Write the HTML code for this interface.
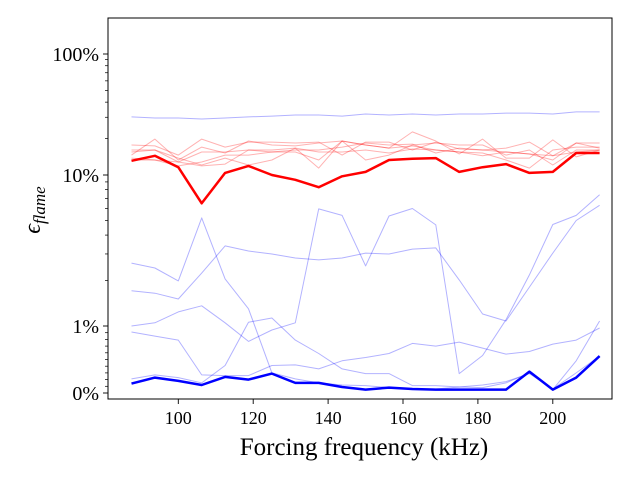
<!DOCTYPE html>
<html><head><meta charset="utf-8"><style>
html,body{margin:0;padding:0;background:#fff;}
svg{display:block;font-family:"Liberation Serif",serif;}
</style></head><body>
<svg id="chart" width="640" height="480" viewBox="0 0 640 480" xmlns="http://www.w3.org/2000/svg">
<rect x="0" y="0" width="640" height="480" fill="#fff"/>
<g id="series"></g>
<g id="axes"></g>
</svg>
<script>
const freqs = [87.5,93.75,100,106.25,112.5,118.75,125,131.25,137.5,143.75,150,156.25,162.5,168.75,175,181.25,187.5,193.75,200,206.25,212.5];
const xTicks = [100,120,140,160,180,200];
const yTicks = [0,1,10,100];
const yTickLabels = ["0%","1%","10%","100%"];
const redBold = [13.1,14.4,11.6,6.5,10.4,11.9,10,9.3,8.3,9.8,10.6,13.3,13.6,13.8,10.6,11.6,12.3,10.4,10.6,15.2,15.2];
const red1 = [14.6,19.8,13.3,17.0,15.2,19.1,17.7,17.4,18.4,19.1,17.7,16.7,22.7,19.1,14.9,19.8,13.8,13.8,19.5,14.1,16.1];
const red2 = [17.7,17.4,14.6,19.8,17.0,18.7,18.7,18.4,18.7,14.6,18.7,18.7,16.1,18.7,16.4,16.1,16.7,18.7,14.4,18.4,18.4];
const red3 = [15.5,16.1,12.8,15.5,15.5,16.1,16.1,16.7,15.5,15.5,16.1,15.2,16.4,16.1,15.5,14.4,15.5,14.9,13.3,18.4,16.7];
const red4 = [13.8,13.3,11.9,12.8,14.6,14.6,15.5,16.1,16.1,17.0,18.4,17.7,18.0,15.2,16.7,16.1,15.5,14.9,14.4,15.5,16.1];
const red5 = [16.1,16.1,13.8,12.1,13.8,12.1,13.3,16.7,11.4,19.1,13.3,14.6,17.7,18.4,17.7,17.7,14.6,16.1,12.1,16.1,16.1];
const red6 = [13.3,13.3,12.8,11.9,12.3,16.1,15.5,15.5,13.3,19.1,17.7,16.7,17.4,16.1,15.5,15.2,13.3,11.4,16.1,17.0,17.0];
const blueTop = [30.2,29.6,29.6,29.0,29.6,30.2,30.7,31.3,31.3,30.7,31.9,31.3,31.9,31.3,31.9,31.9,32.5,32.5,31.9,33.2,33.2];
const blueB = [1.0,1.05,1.24,1.36,1.05,0.77,0.94,1.05,5.96,5.4,2.5,5.35,6.0,4.67,0.29,0.56,1.10,2.18,4.7,5.4,7.4];
const blueC = [2.61,2.42,1.99,5.2,2.05,1.30,0.30,0.21,0.15,0.12,0.11,0.08,0.06,0.06,0.09,0.12,0.17,0.29,0.06,0.30,0.55];
const blueD = [1.71,1.65,1.51,2.24,3.39,3.14,3.0,2.82,2.74,2.82,3.04,3.0,3.23,3.29,2.02,1.20,1.08,1.81,3.04,5.0,6.3];
const blueE = [0.91,0.85,0.79,0.27,0.26,0.26,0.41,0.42,0.36,0.48,0.53,0.59,0.74,0.70,0.76,0.67,0.58,0.62,0.73,0.79,0.97];
const blueG = [0.21,0.27,0.23,0.15,0.41,1.06,1.13,0.79,0.59,0.36,0.29,0.29,0.11,0.11,0.09,0.08,0.15,0.30,0.05,0.48,1.08];
const blueBold = [0.14,0.23,0.18,0.12,0.24,0.20,0.29,0.15,0.15,0.09,0.05,0.08,0.06,0.05,0.05,0.05,0.05,0.32,0.05,0.23,0.55];

const NS = "http://www.w3.org/2000/svg";
const L = 108, R = 612, T = 18, B = 399;
function xs(f){ return 178.3 + (f - 100) * 3.745; }
function ys(v){
  if (v <= 1) return 393 - v * 67;
  if (v <= 10) return 326 - Math.log10(v) * 151;
  return 175 - Math.log10(v / 10) * 121;
}
function mk(tag, attrs, parent){
  const e = document.createElementNS(NS, tag);
  for (const k in attrs) e.setAttribute(k, attrs[k]);
  parent.appendChild(e);
  return e;
}
const gs = document.getElementById('series');
const ga = document.getElementById('axes');
function line(vals, color, w, name){
  const d = vals.map((v,i)=>(i?'L':'M') + xs(freqs[i]).toFixed(1) + ',' + ys(v).toFixed(1)).join(' ');
  const p = mk('path', {d:d, fill:'none', stroke:color, 'stroke-width':w, 'stroke-linejoin':'round'}, gs);
  
  
}
const tr = 'rgba(255,0,0,0.3)', tb = 'rgba(0,0,255,0.3)';
[red1,red2,red3,red4,red5,red6].forEach((s,i)=>line(s, tr, 1, 'red-series-' + (i+1)));
[blueTop,blueB,blueC,blueD,blueE,blueG].forEach((s,i)=>line(s, tb, 1, 'blue-series-' + (i+1)));
line(redBold, '#ff0000', 2.5, 'red-mean-line');
line(blueBold, '#0000ff', 2.5, 'blue-mean-line');

// frame
const fr = mk('rect', {x:L, y:T, width:R-L, height:B-T, fill:'none', stroke:'#000', 'stroke-width':1}, ga);


// x ticks
xTicks.forEach(t=>{
  const x = xs(t);
  mk('line', {x1:x, x2:x, y1:B, y2:B+5, stroke:'#000', 'stroke-width':0.9}, ga);
  const tx = mk('text', {x:x, y:424, 'text-anchor':'middle', 'font-size':18, fill:'#000'}, ga);
  tx.textContent = t;
  
  
});
// y ticks
yTicks.forEach((t,i)=>{
  const y = ys(t);
  mk('line', {x1:L-5, x2:L, y1:y, y2:y, stroke:'#000', 'stroke-width':0.9}, ga);
  const tx = mk('text', {x:L-9, y:y+7, 'text-anchor':'end', 'font-size':20, fill:'#000'}, ga);
  tx.textContent = yTickLabels[i];
  
  
});
const minors = [];
for (let k=1;k<10;k++) minors.push(k/10);
for (let k=2;k<10;k++) minors.push(k);
for (let k=2;k<10;k++) minors.push(k*10);
minors.forEach(v=>{
  const y = ys(v);
  mk('line', {x1:L-3, x2:L, y1:y, y2:y, stroke:'#000', 'stroke-width':0.7}, ga);
});
const xl = mk('text', {x:364, y:455, 'text-anchor':'middle', 'font-size':25, fill:'#000'}, ga);
xl.textContent = 'Forcing frequency (kHz)';


const yl = mk('text', {x:0, y:0, 'text-anchor':'middle', 'font-size':24, 'font-style':'italic', fill:'#000', transform:'translate(40,210) rotate(-90)'}, ga);
yl.innerHTML = 'ϵ<tspan font-size="17" dy="5">flame</tspan>';


</script>
</body></html>
